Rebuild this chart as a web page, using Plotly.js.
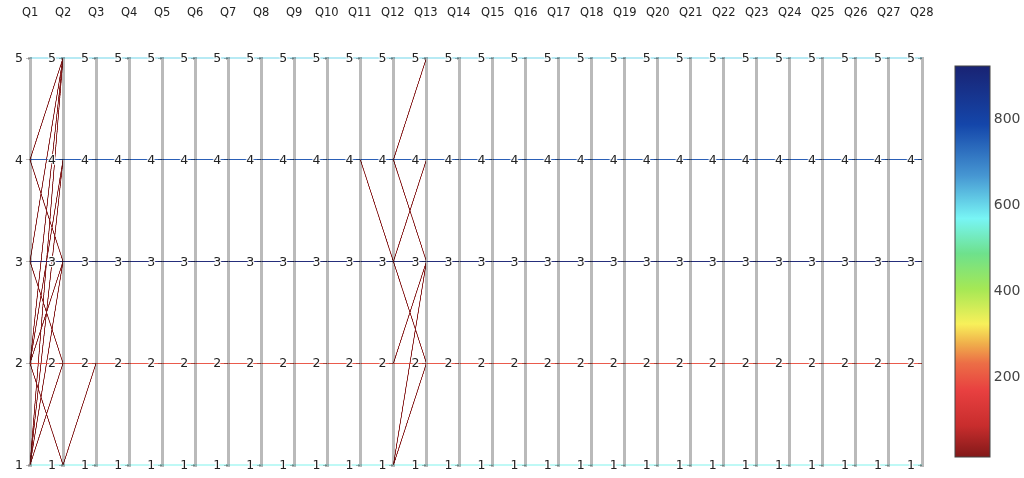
<!DOCTYPE html>
<html>
<head>
<meta charset="utf-8">
<script src="https://cdn.plot.ly/plotly-3.0.1.min.js"></script>
<style>
  html, body { margin: 0; padding: 0; background: #fff; }
  #chart { width: 1024px; height: 478px; }
  /* thicker light grey axis bars, as in the reference */
  #chart .parcoords .axis .domain { stroke-width: 3px; stroke-opacity: 0.27; }
  /* lines come out very faint with few rows; strengthen them */
  #chart .gl-canvas-focus { filter: url(#lineBoost); }
</style>
</head>
<body>
<svg width="0" height="0" style="position:absolute">
  <filter id="lineBoost" color-interpolation-filters="sRGB">
    <feComponentTransfer>
      <feFuncA type="linear" slope="1.9" intercept="0"></feFuncA>
    </feComponentTransfer>
  </filter>
</svg>
<div id="chart"></div>
<script>
// axis names Q1..Q28
const questions = ["Q1","Q2","Q3","Q4","Q5","Q6","Q7","Q8","Q9","Q10","Q11","Q12","Q13","Q14",
                   "Q15","Q16","Q17","Q18","Q19","Q20","Q21","Q22","Q23","Q24","Q25","Q26","Q27","Q28"];
const tickVals = [1, 2, 3, 4, 5];

// answer patterns, one per line (28 answers each)
const rows = [
  // respondents answering the same everywhere
  [5,5,5,5,5,5,5,5,5,5,5,5,5,5,5,5,5,5,5,5,5,5,5,5,5,5,5,5],
  [4,4,4,4,4,4,4,4,4,4,4,4,4,4,4,4,4,4,4,4,4,4,4,4,4,4,4,4],
  [3,3,3,3,3,3,3,3,3,3,3,3,3,3,3,3,3,3,3,3,3,3,3,3,3,3,3,3],
  [2,2,2,2,2,2,2,2,2,2,2,2,2,2,2,2,2,2,2,2,2,2,2,2,2,2,2,2],
  [1,1,1,1,1,1,1,1,1,1,1,1,1,1,1,1,1,1,1,1,1,1,1,1,1,1,1,1],
  // changes between Q1 and Q3
  [4,5,5,5,5,5,5,5,5,5,5,5,5,5,5,5,5,5,5,5,5,5,5,5,5,5,5,5],
  [3,5,5,5,5,5,5,5,5,5,5,5,5,5,5,5,5,5,5,5,5,5,5,5,5,5,5,5],
  [2,5,5,5,5,5,5,5,5,5,5,5,5,5,5,5,5,5,5,5,5,5,5,5,5,5,5,5],
  [1,5,5,5,5,5,5,5,5,5,5,5,5,5,5,5,5,5,5,5,5,5,5,5,5,5,5,5],
  [2,4,4,4,4,4,4,4,4,4,4,4,4,4,4,4,4,4,4,4,4,4,4,4,4,4,4,4],
  [1,4,4,4,4,4,4,4,4,4,4,4,4,4,4,4,4,4,4,4,4,4,4,4,4,4,4,4],
  [4,3,3,3,3,3,3,3,3,3,3,3,3,3,3,3,3,3,3,3,3,3,3,3,3,3,3,3],
  [2,3,3,3,3,3,3,3,3,3,3,3,3,3,3,3,3,3,3,3,3,3,3,3,3,3,3,3],
  [1,3,3,3,3,3,3,3,3,3,3,3,3,3,3,3,3,3,3,3,3,3,3,3,3,3,3,3],
  [3,2,2,2,2,2,2,2,2,2,2,2,2,2,2,2,2,2,2,2,2,2,2,2,2,2,2,2],
  [1,2,2,2,2,2,2,2,2,2,2,2,2,2,2,2,2,2,2,2,2,2,2,2,2,2,2,2],
  [2,1,2,2,2,2,2,2,2,2,2,2,2,2,2,2,2,2,2,2,2,2,2,2,2,2,2,2],
  // changes between Q11 and Q13
  [4,4,4,4,4,4,4,4,4,4,4,3,2,2,2,2,2,2,2,2,2,2,2,2,2,2,2,2],
  [4,4,4,4,4,4,4,4,4,4,4,4,5,5,5,5,5,5,5,5,5,5,5,5,5,5,5,5],
  [4,4,4,4,4,4,4,4,4,4,4,4,3,3,3,3,3,3,3,3,3,3,3,3,3,3,3,3],
  [3,3,3,3,3,3,3,3,3,3,3,3,4,4,4,4,4,4,4,4,4,4,4,4,4,4,4,4],
  [2,2,2,2,2,2,2,2,2,2,2,2,3,3,3,3,3,3,3,3,3,3,3,3,3,3,3,3],
  [1,1,1,1,1,1,1,1,1,1,1,1,3,3,3,3,3,3,3,3,3,3,3,3,3,3,3,3],
  [1,1,1,1,1,1,1,1,1,1,1,1,2,2,2,2,2,2,2,2,2,2,2,2,2,2,2,2]
];
// colour value of each line
const rowColor = [600, 760, 921, 190, 560,
                  14, 14, 14, 14, 14, 14, 14, 14, 14, 14, 14, 14,
                  16, 16, 16, 16, 16, 16, 16];

// reversed jet-like scale as seen on the colour bar
const colorScale = [
  [0.00, "rgb(130,25,25)"],
  [0.08, "rgb(200,45,45)"],
  [0.17, "rgb(232,64,64)"],
  [0.24, "rgb(236,110,70)"],
  [0.29, "rgb(240,175,75)"],
  [0.34, "rgb(248,240,90)"],
  [0.43, "rgb(165,232,85)"],
  [0.52, "rgb(110,225,140)"],
  [0.61, "rgb(120,245,245)"],
  [0.72, "rgb(70,150,210)"],
  [0.85, "rgb(20,70,170)"],
  [1.00, "rgb(25,35,115)"]
];

const dimensions = questions.map(function (q, i) {
  return {
    label: "",
    range: [1, 5],
    tickvals: tickVals,
    values: rows.map(function (r) { return r[i]; })
  };
});

// axis titles drawn higher than parcoords puts them
const annotations = questions.map(function (q, i) {
  return {
    text: q,
    xref: "paper", yref: "paper",
    x: i / (questions.length - 1),
    y: 1, yshift: 44,
    xanchor: "center", yanchor: "middle",
    showarrow: false,
    font: { size: 11.5, color: "#222" }
  };
});

const data = [{
  type: "parcoords",
  line: {
    color: rowColor,
    cmin: 12,
    cmax: 921,
    colorscale: colorScale,
    showscale: true,
    colorbar: {
      xref: "container",
      x: 955 / 1024,
      xanchor: "left",
      xpad: 0,
      dtick: 200,
      tickfont: { size: 14, color: "#444" },
      outlinewidth: 1,
      outlinecolor: "#444",
      thickness: 35
    }
  },
  unselected: { line: { opacity: 0 } },
  tickfont: { size: 12.5, color: "#222" },
  dimensions: dimensions
}];

const layout = {
  width: 1024,
  height: 478,
  margin: { l: 30, r: 102, t: 56, b: 11 },
  font: { family: "DejaVu Sans", color: "#444" },
  annotations: annotations,
  paper_bgcolor: "#fff",
  plot_bgcolor: "#fff"
};

Plotly.newPlot("chart", data, layout, { displayModeBar: false, staticPlot: true });
</script>
</body>
</html>
